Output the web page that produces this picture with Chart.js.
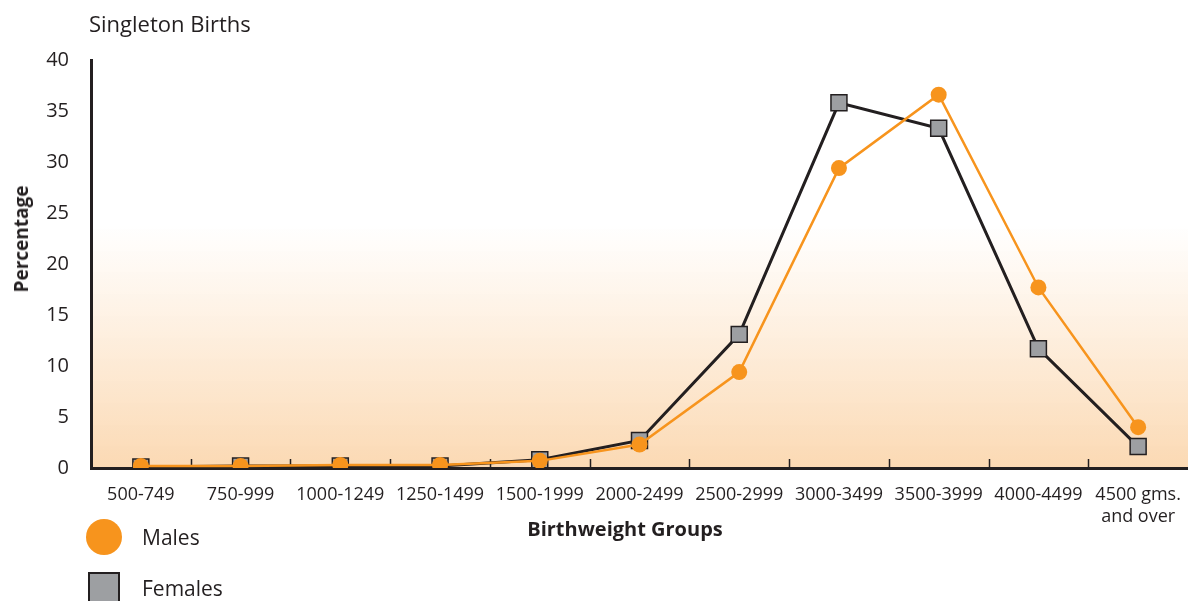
<!DOCTYPE html>
<html>
<head>
<meta charset="utf-8">
<script src="https://cdn.jsdelivr.net/npm/chart.js@4/dist/chart.umd.min.js"></script>
<style>
  html, body { margin: 0; padding: 0; background: #fff; }
  body { width: 1188px; height: 601px; position: relative; overflow: hidden; font-family: 'Open Sans', sans-serif; color: #231f20; }
  #wrap { position: absolute; left: 0; top: 0; width: 1188px; height: 601px; }
  .title { position: absolute; left: 89px; top: 8px; font-size: 22px; }
  .ytitle { position: absolute; left: 21px; top: 239px; font-size: 19px; font-weight: bold;
    transform: translate(-50%, -50%) rotate(-90deg); white-space: nowrap; }
  .xtitle { position: absolute; left: 625px; top: 515px; transform: translateX(-50%); font-size: 20px; font-weight: bold; }
  .leg { position: absolute; left: 86px; display: flex; align-items: center; font-size: 21px; }
  .leg .sw { width: 36px; height: 36px; margin-right: 20px; box-sizing: border-box; }
  .leg.m { top: 519px; }
  .leg.m .sw { background: #f7941d; border-radius: 50%; }
  .leg.f { top: 572px; }
  .leg.f .sw { width: 32px; height: 32px; margin-left: 2px; margin-right: 22px; background: #9d9fa2; border: 2px solid #231f20; }
</style>
</head>
<body>
<div id="wrap"><canvas id="c" width="1188" height="601"></canvas></div>
<div class="title">Singleton Births</div>
<div class="ytitle">Percentage</div>
<div class="xtitle">Birthweight Groups</div>
<div class="leg m"><span class="sw"></span>Males</div>
<div class="leg f"><span class="sw"></span>Females</div>
<script>
const C = { orange: '#f7941d', gray: '#9d9fa2', ink: '#231f20' };

const groups = ['500-749', '750-999', '1000-1249', '1250-1499', '1500-1999', '2000-2499',
  '2500-2999', '3000-3499', '3500-3999', '4000-4499', ['4500 gms.', 'and over']];
const males = [0.2, 0.2, 0.3, 0.3, 0.7, 2.3, 9.4, 29.4, 36.6, 17.7, 4.0];
const females = [0.1, 0.2, 0.2, 0.2, 0.8, 2.7, 13.1, 35.8, 33.3, 11.7, 2.1];
const yTicks = [0, 5, 10, 15, 20, 25, 30, 35, 40];

// peach gradient behind the plot
const bg = {
  id: 'bg',
  beforeDraw(chart) {
    const { ctx, chartArea: a, scales: { y } } = chart;
    const top = y.getPixelForValue(23.9);
    const g = ctx.createLinearGradient(0, top, 0, a.bottom);
    g.addColorStop(0, 'rgba(253,222,188,0)');
    g.addColorStop(1, '#fbd9b3');
    ctx.save();
    ctx.fillStyle = g;
    ctx.fillRect(a.left, top, a.right - a.left, a.bottom - top);
    ctx.restore();
  },
};

// small inward ticks between groups
const ticksIn = {
  id: 'ticksIn',
  beforeDatasetsDraw(chart) {
    const { ctx, chartArea: a, scales: { x } } = chart;
    ctx.save();
    ctx.strokeStyle = C.ink;
    ctx.lineWidth = 1.5;
    for (let i = 0; i < groups.length - 1; i++) {
      const px = Math.round((x.getPixelForValue(i) + x.getPixelForValue(i + 1)) / 2) + 0.5;
      ctx.beginPath();
      ctx.moveTo(px, a.bottom);
      ctx.lineTo(px, a.bottom - 9);
      ctx.stroke();
    }
    ctx.restore();
  },
};

new Chart(document.getElementById('c'), {
  type: 'line',
  data: {
    labels: groups,
    datasets: [
      { label: 'Males', data: males, borderColor: C.orange, backgroundColor: C.orange, borderWidth: 2.5,
        pointStyle: 'circle', pointRadius: 8, pointBorderWidth: 0, tension: 0, order: 0 },
      { label: 'Females', data: females, borderColor: C.ink, backgroundColor: C.gray, borderWidth: 3,
        pointStyle: 'rect', pointRadius: 11.3, pointBorderWidth: 1.5, pointBorderColor: C.ink, tension: 0, order: 1 },
    ],
  },
  options: {
    responsive: false,
    animation: false,
    layout: { autoPadding: false, padding: { top: 60, right: 0, left: 0, bottom: 0 } },
    plugins: { legend: { display: false }, tooltip: { enabled: false } },
    scales: {
      x: {
        offset: true,
        grid: { display: false },
        border: { color: C.ink, width: 3 },
        ticks: { color: C.ink, font: { family: "'Open Sans', sans-serif", size: 18 },
          padding: 8, maxRotation: 0, autoSkip: false },
        afterFit: s => { s.height = 133; s.paddingLeft = 0; s.paddingRight = 0; },
      },
      y: {
        min: 0, max: 40,
        grid: { display: false },
        border: { color: C.ink, width: 3 },
        afterBuildTicks: s => { s.ticks = yTicks.map(v => ({ value: v })); },
        ticks: { color: C.ink, font: { family: "'Open Sans', sans-serif", size: 20 }, padding: 14 },
        afterFit: s => { s.width = 91; s.paddingTop = 0; s.paddingBottom = 0; },
      },
    },
  },
  plugins: [bg, ticksIn],
});
</script>
</body>
</html>
